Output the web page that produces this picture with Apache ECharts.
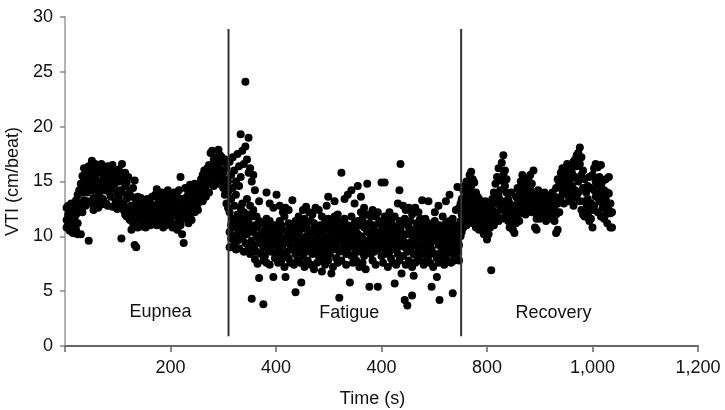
<!DOCTYPE html>
<html>
<head>
<meta charset="utf-8">
<script src="https://cdn.jsdelivr.net/npm/echarts@6/dist/echarts.min.js"></script>
<style>
html,body{margin:0;padding:0;background:#fff;}
#chart{width:725px;height:410px;}
</style>
</head>
<body>
<div id="chart"></div>
<script>
// Tick values and labels (the original figure prints "400" twice)
const xTickValues = [0, 200, 400, 600, 800, 1000, 1200];
const xTickLabels = ['', '200', '400', '400', '800', '1,000', '1,200'];
const yTickValues = [0, 5, 10, 15, 20, 25, 30];

// Phase boundaries (s) and phase labels
const phaseBoundaries = [310, 751];
const boundaryRange = [0.9, 28.9];
const phaseNames = ['Eupnea', 'Fatigue', 'Recovery'];
const phaseLabelPos = [[181, 3.1], [539, 3.0], [926, 3.0]];

// Each row: [time (s), VTI values read at that time ...]
const eupneaRows = [
[3,12.6,11.5,10.8],[6,12.0,11.0,12.8],[9,11.4,10.5,12.3],[12,13.0,11.8,10.8],[15,12.2,11.0,10.3],
[18,12.6,11.6],[21,10.6,13.3,12.0],[24,11.2,10.2,13.8],[27,12.5,14.2],[30,10.2,13.0,14.8],
[33,14.0,12.2,15.5],[36,13.3,15.0,16.2],[39,14.5,15.8,12.8],[42,16.0,14.0,13.2],[45,9.6,15.2,16.4],
[48,14.6,13.0,15.6],[51,16.9,15.0,14.2],[54,13.5,16.0,12.4],[57,15.4,14.4,16.6],[60,13.0,15.8,14.8],
[63,16.2,14.0,12.6],[66,15.0,13.6,16.0],[69,14.5,16.6,12.9],[72,15.6,13.4],[75,14.2,16.3,15.0],
[78,13.0,15.4,16.0],[81,14.8,12.8,16.4],[84,15.8,14.0],[87,13.6,16.1,14.6],[90,15.2,12.7,16.5],
[93,14.4,15.8],[96,13.2,16.0,14.9],[99,15.5,14.0,12.5],[102,16.1,13.5,15.0],[105,14.2,12.9,15.8],
[107,9.8],[108,16.6,14.0],[111,15.2,13.0,12.4],[114,14.6,15.8,12.0],[117,13.4,14.9,11.8],
[120,15.4,12.6,13.8],[123,14.2,12.2,11.5],[126,12.8,13.6,10.6],[129,14.4,12.0,11.2],[132,15.1,9.2,12.6],
[135,13.2,11.6,9.0],[138,12.4,10.8,13.6],[141,11.9,13.0,12.6],[144,11.3,12.7,13.5],[147,12.2,10.9,11.8],
[150,13.2,12.0,11.4],[153,11.7,12.9,10.8],[156,12.4,11.2,13.4],[159,11.9,12.8],[162,12.5,11.0,13.0],
[165,11.6,12.3,13.6],[168,12.8,11.3],[171,12.2,13.8,11.7],[174,11.0,12.6,14.3],[177,12.0,13.2,11.4],
[180,12.7,11.2,13.6],[183,12.2,14.0],[186,11.8,13.0,10.8],[189,12.5,11.4,13.7],[192,12.0,13.2,11.0],
[195,12.9,11.6,14.2],[198,12.4,11.9,13.0],[201,11.3,12.8,13.8],[204,12.2,10.8,13.4],[207,11.9,12.6,14.0],
[210,12.4,11.1,13.2],[213,12.0,13.6,10.6],[216,12.7,11.5,14.2],[219,15.4,12.2,11.0],[222,12.8,13.4,10.2],
[225,9.4,12.0,11.6],[228,13.0,12.4,14.4],[231,11.8,12.8,13.6],[234,12.3,14.0,11.2],[237,13.2,12.0,14.7],
[240,12.6,13.8,11.5],[243,14.2,12.9,13.4],[246,12.2,14.8,13.0],[249,13.6,12.6,14.3],[252,14.0,13.0,12.4],
[255,14.6,13.4],[258,13.8,15.2,14.2],[261,15.6,14.4,13.2],[264,14.0,15.0,16.0],[267,15.4,13.6,14.6],
[270,16.2,14.8,15.6],[273,15.0,16.5,14.0],[276,15.8,17.6,14.8],[279,16.4,15.2,17.8],[282,15.6,17.0,14.6],
[285,16.6,15.4],[288,17.2,15.8,16.2],[291,17.9,16.4,14.8],[294,15.4,16.8,17.4],[297,16.0,17.2,15.0],
[300,16.8,14.4,15.8],[303,15.2,17.0,13.8],[306,16.2,14.6,13.0],[309,15.0,12.6,14.0]
];

const fatigueRows = [
[312,16.8,10.4,12.2,9.0],[315,15.6,11.0,13.4,9.8],[318,17.2,10.0,14.4,11.6],[321,16.0,12.8,9.4,10.8],
[324,15.0,11.4,8.8,13.8],[327,17.5,10.2,12.0,9.6],[330,16.4,11.0,14.6,8.9],[333,19.3,12.6,10.4,15.4],
[336,17.8,9.8,11.6,13.0],[339,16.6,10.8,8.6,12.2],[342,24.1,18.2,11.4,9.4],[345,17.0,13.4,10.2,12.0],
[348,19.0,15.8,11.2,9.0],[351,16.2,10.6,12.8,8.4],[354,15.0,11.8,9.6,4.3],[357,15.6,10.4,12.4,8.8],
[360,14.2,11.0,9.2,7.9],[363,10.0,8.6,11.8],[365,7.5,10.8],[368,6.2,9.4,11.4,13.2],
[372,10.2,8.4,9.6],[376,3.8,11.2,9.0,7.8],[379,10.6,8.2,9.8],[382,14.0,11.6,9.2,7.6],
[385,10.8,8.8,10.0],[388,9.4,11.4,7.4,13.0],[391,10.4,8.6,9.8],[395,6.3,11.0,9.2,12.6],
[398,10.2,8.0,9.6],[401,13.8,11.0,8.4,10.6],[404,9.0,10.0,7.6],[407,11.4,8.8,12.8,10.4],
[410,9.6,7.8,11.0],[413,10.6,12.2,8.4,9.2],[416,11.8,9.8,7.2],[418,6.3,12.6],
[421,10.0,8.6,9.4],[424,12.4,10.6,8.0,11.2],[427,9.2,7.6,10.4],[431,13.3,11.0,8.8,9.8],
[434,10.2,7.4,9.0],[437,4.9,11.4,8.4,10.6],[440,9.6,10.8,7.8],[443,11.8,8.6,9.4,10.2],
[446,10.6,7.6,9.0],[448,5.8,11.2],[451,9.8,8.2,10.8,12.4],[454,11.6,9.2,7.2],
[457,12.7,10.0,8.6,11.0],[460,9.4,7.8,10.6],[463,8.8,10.2,12.2,9.6],[466,11.4,7.4,9.8],
[469,10.6,8.4,12.0,9.2],[472,9.0,11.2,7.0],[475,12.6,10.4,8.8,9.6],[478,9.8,7.6,10.8],
[481,8.2,10.2,12.4,9.4],[484,11.0,9.0,7.8],[487,10.4,8.6,11.8,6.8],[490,9.6,10.6,8.0],
[493,11.4,9.2,7.4,10.0],[496,12.8,10.8,8.6],[499,9.4,11.6,7.8,13.6],[502,10.6,8.4,9.0],
[505,11.2,9.8,6.6,10.4],[508,8.8,10.0,7.2],[511,10.8,9.4,11.8,13.2],[514,9.0,8.0,10.2],
[517,12.0,9.6,7.6,11.4],[520,4.4,10.6,8.6],[524,15.8,9.8,11.2,7.8],[527,10.4,8.8,9.4],
[530,11.6,9.0,13.4,10.8],[533,8.4,10.2,7.4],[536,11.0,9.6,13.8,8.8],[540,5.8,10.6,9.2],
[543,11.8,8.2,10.0,14.2],[546,9.8,7.6,10.8],[549,11.2,9.0,13.0,8.4],[552,10.4,7.8,9.6],
[555,8.8,11.4,14.6,10.2],[558,9.4,7.2,11.0],[561,10.0,8.6,12.2,13.6],[564,11.6,9.8,7.6],
[567,9.2,12.6,8.2,10.8],[570,11.0,9.6,7.0],[573,10.4,8.8,12.0,14.8],[577,5.4,11.2,9.4],
[580,10.0,8.4,11.8,9.0],[583,12.4,10.6,7.8],[586,9.6,11.0,8.6,10.2],[589,11.8,9.2,7.4],
[593,5.4,10.4,8.8,12.2],[596,11.4,9.6,10.0],[600,14.9,11.0,8.2,9.4],[603,10.6,7.6,9.0],
[606,14.9,11.8,9.8,8.4],[609,10.2,8.8,11.2],[612,9.4,11.6,7.2,10.4],[615,12.2,8.6,10.8],
[618,9.8,11.4,8.0,10.0],[621,11.0,9.2,7.6],[625,5.7,10.4,8.8,11.8],[628,9.6,7.4,10.8],
[631,10.2,13.0,8.4,9.0],[634,14.2,11.4,9.8,7.8],[636,16.6,10.6],[638,6.6,9.2,11.0],
[641,10.0,8.2,12.8,9.6],[644,4.2,11.6,9.0],[646,7.4,12.4,10.2],[649,3.7,11.2,8.6],
[652,10.8,12.6,7.8,9.4],[655,11.4,8.8,10.2],[658,4.6,9.6,12.0,7.2],[661,6.4,10.6,8.4],
[664,12.6,9.2,10.4,7.6],[667,9.8,11.2,8.2],[670,10.8,8.8,12.2,9.4],[673,11.6,7.8,10.0],
[677,13.3,10.4,8.4,11.0],[680,9.2,7.4,10.6],[683,10.8,8.6,11.6,9.6],[686,9.0,7.8,10.2],
[689,8.2,11.2,9.8,13.2],[692,10.6,7.6,9.2],[695,5.4,11.0,8.8,10.0],[698,9.6,7.2,10.8],
[701,11.4,8.4,9.8,12.2],[705,6.3,10.4,8.0],[708,9.2,12.8,7.6,10.6],[710,4.2,11.0,9.6],
[713,10.2,8.6,7.8],[716,11.8,9.4,10.8,8.2],[719,8.8,10.0,7.4],[722,11.2,9.6,13.2,8.4],
[725,10.6,7.8,9.0],[729,13.8,11.4,8.8,10.2],[732,9.8,7.6,10.8],[735,4.8,11.6,8.4,9.4],
[738,10.4,9.0,7.8],[741,11.0,8.2,10.0,12.4],[744,14.5,9.6,8.6],[747,10.8,12.6,9.2,7.8],
[750,11.4,10.0,13.0]
];

const recoveryRows = [
[752,10.4,12.0,13.4,11.2],[755,14.2,12.6,10.8,11.6],[758,14.6,13.2,11.4,12.2],[761,12.8,15.0,11.0,13.8],
[764,13.4,14.4,12.0,11.6],[767,15.6,14.0,12.6],[770,15.9,13.0,11.8,14.6],[773,15.2,12.4,13.6,11.2],
[776,14.9,13.8,12.8,11.6],[779,14.0,12.2,13.2,10.8],[782,13.6,12.0,11.2],[785,12.8,11.4,13.4,10.6],
[788,12.6,11.0,13.0],[791,12.4,11.8,10.6],[794,11.6,12.6,10.2],[797,11.0,12.0,13.2],
[800,10.6,9.7,11.6],[803,11.2,10.2,12.4],[806,10.8,12.0,13.0],[808,6.9],[810,11.6,13.4,12.4],
[813,12.2,14.0,11.0],[816,13.0,14.8,12.0],[819,12.1,15.4,13.8],[822,13.6,16.2,11.4],[825,15.1,14.2,12.6],
[828,16.7,13.2,11.6],[831,17.4,15.6,12.4],[834,16.0,14.6,11.8],[837,14.0,12.8,15.2],[840,13.4,11.4,12.2],
[843,11.8,13.0,10.8],[846,12.4,11.0,14.0],[849,10.6,11.8,12.8],[852,10.3,11.4,12.6],[855,11.2,12.8,13.6],
[858,12.0,13.4,14.4],[861,12.6,14.2,11.4],[864,12.1,13.8,15.0],[867,14.4,13.0,15.6],[870,15.3,13.6,12.4],
[873,13.6,14.8,12.0],[876,15.2,13.0,14.0],[879,15.1,12.6,14.2],[882,14.6,15.6,13.4],[885,13.2,12.2,14.8],
[888,16.0,14.0,12.8],[891,12.7,10.8,13.6],[894,10.6,12.4,11.6],[897,13.0,12.0,14.2],[900,13.6,12.4,11.6],
[903,13.6,12.8],[906,12.2,13.4,11.8],[909,13.0,12.6,14.0],[912,12.4,13.8,11.4],[915,13.2,12.0],
[918,12.8,11.6,13.6],[921,12.7,13.4,11.8],[924,12.2,14.0,13.0],[928,12.6,11.4,13.6],[931,10.3,12.0,14.4],
[934,10.6,13.0,15.2],[937,14.9,13.4,12.2],[940,14.9,15.8,13.6],[943,15.4,14.2,16.2],[946,15.9,14.6,13.0],
[949,16.0,14.8,15.4],[952,15.0,13.8,16.6],[955,14.4,15.6,13.2],[958,15.2,13.6,16.2],[961,13.3,14.6,15.8],
[964,14.0,16.8,12.8],[967,15.4,17.0,14.2],[970,16.4,13.6,17.4],[973,17.6,15.0,14.0],[976,18.1,16.6,13.2],
[979,17.2,15.6,12.4],[982,16.0,14.4,12.0],[985,15.2,13.2,11.8],[988,11.8,14.0,12.6],[991,14.6,13.4,12.0],
[994,15.4,12.6,11.4],[997,13.0,11.6,14.4],[1000,10.8,12.4,15.6],[1003,16.2,14.2,12.8],[1006,16.6,13.6,15.0],
[1010,16.3,14.8,12.2],[1013,15.4,13.2,14.0],[1016,16.5,14.6,11.8],[1019,15.0,12.6,13.6],[1022,14.2,11.6,13.0],
[1025,13.4,15.2,12.0],[1028,12.6,14.0,11.2],[1031,15.4,13.9,12.4],[1034,12.1,10.8,13.0],[1037,10.8,12.2]
];

function toPoints(rows) {
  const pts = [];
  rows.forEach(r => { for (let i = 1; i < r.length; i++) pts.push([r[0], r[i]]); });
  return pts;
}

const FONT = 'Liberation Sans, Arial, Helvetica, sans-serif';
const chart = echarts.init(document.getElementById('chart'), null, {renderer: 'canvas'});

const dotSeries = [eupneaRows, fatigueRows, recoveryRows].map(rows => ({
  type: 'scatter',
  data: toPoints(rows),
  symbol: 'circle',
  symbolSize: 8,
  itemStyle: {color: '#000', opacity: 1, borderWidth: 0},
  emphasis: {disabled: true},
  silent: true,
  z: 3
}));

const boundarySeries = phaseBoundaries.map(t => ({
  type: 'line',
  data: [[t, boundaryRange[0]], [t, boundaryRange[1]]],
  symbol: 'none',
  lineStyle: {color: '#333', width: 2},
  silent: true,
  z: 4
}));

const labelSeries = {
  type: 'scatter',
  symbolSize: 1,
  itemStyle: {color: 'rgba(255,255,255,0)', opacity: 1},
  emphasis: {disabled: true},
  data: phaseNames.map((n, i) => ({name: n, value: phaseLabelPos[i]})),
  label: {
    show: true, position: 'inside', formatter: p => p.name,
    fontFamily: FONT, fontSize: 18, color: '#111', opacity: 1
  },
  silent: true,
  z: 5
};

chart.setOption({
  animation: false,
  backgroundColor: '#fff',
  grid: {left: 65, right: 27, top: 17, bottom: 64, containLabel: false, outerBoundsMode: 'none'},
  xAxis: {
    type: 'value', min: 0, max: 1200, interval: 200,
    name: 'Time (s)', nameLocation: 'middle', nameGap: 44,
    nameTextStyle: {fontFamily: FONT, fontSize: 18, color: '#111', padding: [0, 18, 0, 0]},
    axisLine: {show: true, onZero: false, lineStyle: {color: '#666', width: 2}},
    axisTick: {show: true, inside: false, length: 6, lineStyle: {color: '#666', width: 1.5}},
    splitLine: {show: false},
    axisLabel: {
      margin: 13, fontFamily: FONT, fontSize: 18, color: '#111',
      formatter: v => { const i = xTickValues.indexOf(v); return i >= 0 ? xTickLabels[i] : ''; }
    }
  },
  yAxis: {
    type: 'value', min: 0, max: 30, interval: 5,
    name: 'VTI (cm/beat)', nameLocation: 'middle', nameGap: 40, nameRotate: 90,
    nameTextStyle: {fontFamily: FONT, fontSize: 18, color: '#111'},
    axisLine: {show: true, onZero: false, lineStyle: {color: '#999', width: 1.5}},
    axisTick: {show: true, length: 5, lineStyle: {color: '#888', width: 1.5}},
    splitLine: {show: false},
    axisLabel: {
      margin: 12, fontFamily: FONT, fontSize: 18, color: '#111',
      formatter: v => yTickValues.indexOf(v) >= 0 ? String(v) : ''
    }
  },
  series: [...dotSeries, ...boundarySeries, labelSeries]
});
</script>
</body>
</html>
